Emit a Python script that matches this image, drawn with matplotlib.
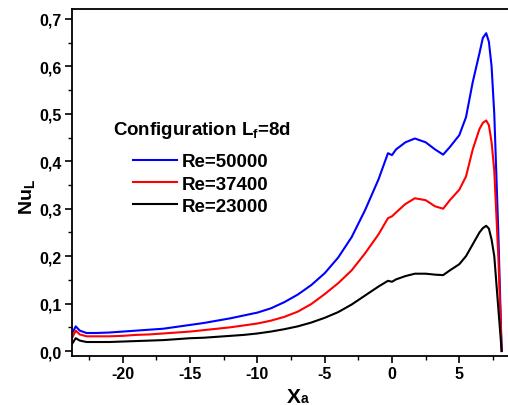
import matplotlib
matplotlib.use("Agg")
import matplotlib.pyplot as plt
from matplotlib.ticker import MultipleLocator, FuncFormatter

plt.rcParams['font.family'] = ['Liberation Sans', 'DejaVu Sans']
plt.rcParams['font.weight'] = 'bold'
plt.rcParams['mathtext.fontset'] = 'custom'
plt.rcParams['mathtext.rm'] = 'Liberation Sans:bold'
plt.rcParams['mathtext.it'] = 'Liberation Sans:bold'
plt.rcParams['mathtext.bf'] = 'Liberation Sans:bold'

# ---- data ----
xa = [-23.8, -23.5, -23.2, -22.7, -22, -21, -20, -19, -18, -17, -16, -15, -14, -13,
      -12, -11, -10, -9, -8, -7, -6, -5, -4, -3, -2, -1, -0.3, 0, 0.3, 1, 1.7, 2.5,
      3.2, 3.8, 4.3, 5.0, 5.5, 6.0, 6.5, 6.75, 7.0, 7.2, 7.4, 7.6, 7.9, 8.15]

re50000 = [0.036, 0.052, 0.043, 0.038, 0.038, 0.039, 0.041, 0.043, 0.045, 0.047, 0.051,
           0.055, 0.059, 0.064, 0.069, 0.075, 0.081, 0.090, 0.103, 0.119, 0.139, 0.164,
           0.197, 0.240, 0.297, 0.362, 0.417, 0.413, 0.425, 0.440, 0.448, 0.440, 0.425,
           0.414, 0.430, 0.455, 0.493, 0.567, 0.628, 0.660, 0.670, 0.652, 0.600, 0.500,
           0.250, 0.0]

re37400 = [0.026, 0.043, 0.035, 0.031, 0.031, 0.031, 0.032, 0.034, 0.035, 0.037, 0.039,
           0.041, 0.044, 0.047, 0.050, 0.054, 0.058, 0.064, 0.072, 0.083, 0.099, 0.120,
           0.143, 0.170, 0.206, 0.246, 0.280, 0.284, 0.292, 0.310, 0.322, 0.318, 0.305,
           0.300, 0.318, 0.340, 0.368, 0.425, 0.468, 0.481, 0.486, 0.476, 0.440, 0.380,
           0.200, 0.0]

re23000 = [0.014, 0.027, 0.022, 0.019, 0.019, 0.019, 0.020, 0.021, 0.022, 0.023, 0.025,
           0.027, 0.028, 0.030, 0.032, 0.034, 0.037, 0.041, 0.046, 0.052, 0.060, 0.070,
           0.082, 0.098, 0.117, 0.136, 0.148, 0.146, 0.151, 0.158, 0.163, 0.163, 0.161,
           0.160, 0.170, 0.183, 0.200, 0.225, 0.250, 0.259, 0.264, 0.258, 0.235, 0.200,
           0.090, 0.0]

series_labels = ['Re=50000', 'Re=37400', 'Re=23000']
series_colors = ['#0000ff', '#ff0000', '#000000']
legend_title = 'Configuration L$_\\mathregular{f}$=8d'

fig = plt.figure(figsize=(5.08, 4.06), dpi=100)
ax = fig.add_axes([71.7/508, 1-357/406, 1-71.7/508, (357-10)/406])

for ys, lab, col in zip([re50000, re37400, re23000], series_labels, series_colors):
    ax.plot(xa, ys, color=col, lw=1.5, label=lab)

ax.set_xlim(-23.8, 8.62)
ax.set_ylim(-0.0105, 0.721)
ax.xaxis.set_major_locator(MultipleLocator(5))
ax.xaxis.set_minor_locator(MultipleLocator(2.5))
ax.yaxis.set_major_locator(MultipleLocator(0.1))
ax.yaxis.set_minor_locator(MultipleLocator(0.05))
ax.yaxis.set_major_formatter(FuncFormatter(lambda v, p: ('%.1f' % v).replace('.', ',')))
ax.xaxis.set_major_formatter(FuncFormatter(lambda v, p: '%d' % v))
ax.tick_params(which='major', direction='out', length=5, width=1.2, labelsize=11.5, pad=2)
ax.tick_params(which='minor', direction='out', length=3, width=1.0)
ax.tick_params(top=False, right=False)
ax.spines['right'].set_visible(False)
for s in ['left', 'bottom', 'top']:
    ax.spines[s].set_linewidth(1.3)

leg = ax.legend(loc='center', bbox_to_anchor=(200.5/508, 1-185/406),
                bbox_transform=fig.transFigure,
                frameon=False, fontsize=13.5, handlelength=2.35,
                handletextpad=0.27, labelspacing=0.28, borderaxespad=0, borderpad=0)

fig.text(202/508, 1-135/406, legend_title, fontsize=13.5, ha='center', va='baseline',
         fontweight='bold')

fig.text(27/508, 1-197/406, 'Nu$_\\mathregular{L}$', rotation=90, fontsize=14,
         ha='center', va='center', fontweight='bold')
fig.text(287/508, 1-403/406, 'X', fontsize=15, ha='left', va='baseline', fontweight='bold')
fig.text(301/508, 1-403/406, 'a', fontsize=10, ha='left', va='baseline', fontweight='bold')

fig.savefig('out.png', dpi=100)
